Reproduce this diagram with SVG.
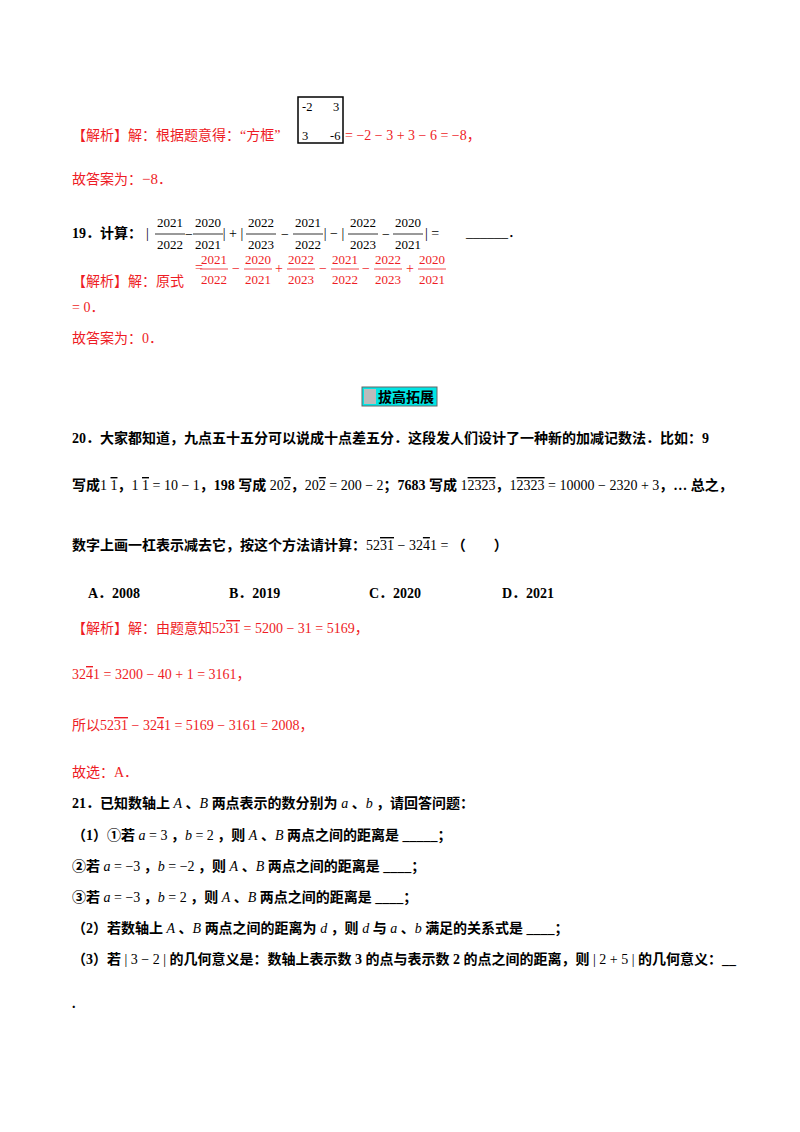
<svg xmlns="http://www.w3.org/2000/svg" width="800" height="1132" viewBox="0 0 800 1132">
<style>
text{font-family:"Liberation Serif","Noto Sans CJK SC",serif;font-size:14px;fill:#000}
.r{fill:#ee1c25}
.b{font-weight:bold}
.m{font-family:"Liberation Serif","Noto Sans CJK SC",serif;font-size:14px}
.s{font-size:12.5px}
.o{text-decoration:overline}
.f{text-anchor:middle;font-size:13px}
.op{text-anchor:middle;font-size:14px}
.k{stroke:#000;stroke-width:0.8}
.rl{stroke:#ee1c25;stroke-width:0.8}
</style>
<rect width="800" height="1132" fill="#fff"/>
<g id="q18">
<rect x="298" y="97" width="45" height="46" fill="#fff" stroke="#000" stroke-width="1.5"/>
<text x="302" y="111" class="s">-2</text><text x="333" y="111" class="s">3</text>
<text x="302" y="140" class="s">3</text><text x="330" y="140" class="s">-6</text>
<text x="72" y="140" class="r">【解析】解：根据题意得：“方框”</text>
<text x="345" y="140" class="r m" font-size="15">= −2 − 3 + 3 − 6 = −8，</text>
<text x="72" y="184" class="r">故答案为：<tspan font-size="15">−8</tspan>．</text>
</g>
<g id="q19">
<text x="72" y="238" class="b">19．计算：</text>
<text x="146" y="238" class="m">|</text>
<text x="170" y="227" class="f">2021</text><text x="170" y="249" class="f">2022</text>
<text x="189" y="239" class="op">−</text>
<text x="208" y="227" class="f">2020</text><text x="208" y="249" class="f">2021</text>
<text x="233" y="238" class="op">| + |</text>
<text x="261" y="227" class="f">2022</text><text x="261" y="249" class="f">2023</text>
<text x="285" y="239" class="op">−</text>
<text x="308" y="227" class="f">2021</text><text x="308" y="249" class="f">2022</text>
<text x="334" y="238" class="op">| − |</text>
<text x="363" y="227" class="f">2022</text><text x="363" y="249" class="f">2023</text>
<text x="386" y="239" class="op">−</text>
<text x="408" y="227" class="f">2020</text><text x="408" y="249" class="f">2021</text>
<text x="425" y="238" class="m">| =</text>
<text x="466" y="237">______．</text>
</g>
<g id="q19b">
<text x="72" y="286" class="r">【解析】解：原式</text>
<text x="195" y="272" class="r m" font-size="15">=</text>
<text x="214" y="264" class="f r">2021</text><text x="214" y="284" class="f r">2022</text>
<text x="236" y="273" class="op r">−</text>
<text x="258" y="264" class="f r">2020</text><text x="258" y="284" class="f r">2021</text>
<text x="279" y="273" class="op r">+</text>
<text x="301" y="264" class="f r">2022</text><text x="301" y="284" class="f r">2023</text>
<text x="323" y="273" class="op r">−</text>
<text x="345" y="264" class="f r">2021</text><text x="345" y="284" class="f r">2022</text>
<text x="366" y="273" class="op r">−</text>
<text x="388" y="264" class="f r">2022</text><text x="388" y="284" class="f r">2023</text>
<text x="410" y="273" class="op r">+</text>
<text x="432" y="264" class="f r">2020</text><text x="432" y="284" class="f r">2021</text>
<text x="72" y="312" class="r">= 0．</text>
<text x="72" y="343" class="r">故答案为：0．</text>
</g>
<g id="sec">
<rect x="362" y="387" width="75" height="19" fill="#00e5e5" stroke="#666"/>
<rect x="364" y="389" width="12" height="15" fill="#bbb"/>
<text x="378" y="402" class="b">拔高拓展</text>
</g>
<g id="q20">
<text x="72" y="443" class="b">20．大家都知道，九点五十五分可以说成十点差五分．这段发人们设计了一种新的加减记数法．比如：9</text>
<text x="72" y="490" class="b">写成<tspan class="m" font-weight="normal">1 <tspan class="o">1</tspan></tspan>，<tspan class="m" font-weight="normal">1 <tspan class="o">1</tspan> = 10 − 1</tspan>，198 写成 <tspan class="m" font-weight="normal">20<tspan class="o">2</tspan></tspan>，<tspan class="m" font-weight="normal">20<tspan class="o">2</tspan> = 200 − 2</tspan>；7683 写成 <tspan class="m" font-weight="normal">1<tspan class="o">2323</tspan></tspan>，<tspan class="m" font-weight="normal">1<tspan class="o">2323</tspan> = 10000 − 2320 + 3</tspan>，… 总之，</text>
<text x="72" y="550" class="b">数字上画一杠表示减去它，按这个方法请计算：<tspan class="m" font-weight="normal">52<tspan class="o">31</tspan> − 32<tspan class="o">4</tspan>1 =</tspan> （　　）</text>
<text x="88" y="598" class="b">A．2008</text>
<text x="229" y="598" class="b">B．2019</text>
<text x="369" y="598" class="b">C．2020</text>
<text x="502" y="598" class="b">D．2021</text>
<text x="72" y="633" class="r">【解析】解：由题意知<tspan class="m" font-size="15">52<tspan class="o">31</tspan> = 5200 − 31 = 5169</tspan>，</text>
<text x="72" y="679" class="r"><tspan class="m" font-size="15">32<tspan class="o">4</tspan>1 = 3200 − 40 + 1 = 3161</tspan>，</text>
<text x="72" y="730" class="r">所以<tspan class="m" font-size="15">52<tspan class="o">31</tspan> − 32<tspan class="o">4</tspan>1 = 5169 − 3161 = 2008</tspan>，</text>
<text x="72" y="777" class="r">故选：A．</text>
</g>
<g id="q21">
<text x="72" y="808" class="b">21．已知数轴上 <tspan font-style="italic" font-weight="normal">A</tspan> 、<tspan font-style="italic" font-weight="normal">B</tspan> 两点表示的数分别为 <tspan font-style="italic" font-weight="normal">a</tspan> 、<tspan font-style="italic" font-weight="normal">b</tspan> ，请回答问题：</text>
<text x="72" y="840" class="b">（1）①若 <tspan font-weight="normal"><tspan font-style="italic">a</tspan> = 3</tspan> ，<tspan font-weight="normal"><tspan font-style="italic">b</tspan> = 2</tspan> ，则 <tspan font-style="italic" font-weight="normal">A</tspan> 、<tspan font-style="italic" font-weight="normal">B</tspan> 两点之间的距离是 _____；</text>
<text x="72" y="871" class="b">②若 <tspan font-weight="normal"><tspan font-style="italic">a</tspan> = −3</tspan> ，<tspan font-weight="normal"><tspan font-style="italic">b</tspan> = −2</tspan> ，则 <tspan font-style="italic" font-weight="normal">A</tspan> 、<tspan font-style="italic" font-weight="normal">B</tspan> 两点之间的距离是 ____；</text>
<text x="72" y="902" class="b">③若 <tspan font-weight="normal"><tspan font-style="italic">a</tspan> = −3</tspan> ，<tspan font-weight="normal"><tspan font-style="italic">b</tspan> = 2</tspan> ，则 <tspan font-style="italic" font-weight="normal">A</tspan> 、<tspan font-style="italic" font-weight="normal">B</tspan> 两点之间的距离是 ____；</text>
<text x="72" y="933" class="b">（2）若数轴上 <tspan font-style="italic" font-weight="normal">A</tspan> 、<tspan font-style="italic" font-weight="normal">B</tspan> 两点之间的距离为 <tspan font-style="italic" font-weight="normal">d</tspan> ，则 <tspan font-style="italic" font-weight="normal">d</tspan> 与 <tspan font-style="italic" font-weight="normal">a</tspan> 、<tspan font-style="italic" font-weight="normal">b</tspan> 满足的关系式是 ____；</text>
<text x="72" y="964" class="b">（3）若 <tspan font-weight="normal">| 3 − 2 |</tspan> 的几何意义是：数轴上表示数 3 的点与表示数 2 的点之间的距离，则 <tspan font-weight="normal">| 2 + 5 |</tspan> 的几何意义：__</text>
<text x="72" y="1008" class="b">.</text>
</g>
<g id="connectors">
<line x1="155" y1="234" x2="185" y2="234" class="k"/>
<line x1="193" y1="234" x2="223" y2="234" class="k"/>
<line x1="246" y1="234" x2="276" y2="234" class="k"/>
<line x1="293" y1="234" x2="323" y2="234" class="k"/>
<line x1="348" y1="234" x2="378" y2="234" class="k"/>
<line x1="393" y1="234" x2="423" y2="234" class="k"/>
<line x1="200" y1="269" x2="228" y2="269" class="rl"/>
<line x1="244" y1="269" x2="272" y2="269" class="rl"/>
<line x1="287" y1="269" x2="315" y2="269" class="rl"/>
<line x1="331" y1="269" x2="359" y2="269" class="rl"/>
<line x1="374" y1="269" x2="402" y2="269" class="rl"/>
<line x1="418" y1="269" x2="446" y2="269" class="rl"/>
</g>
</svg>
